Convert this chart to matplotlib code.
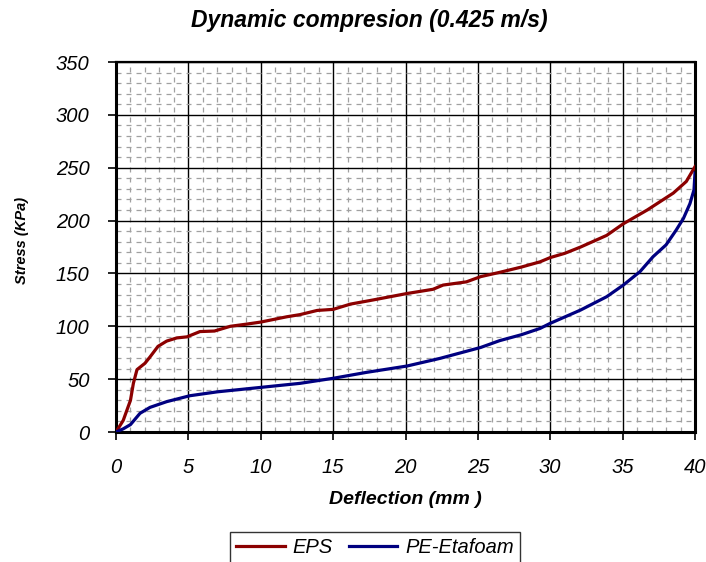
import numpy as np
import matplotlib.pyplot as plt
from matplotlib.ticker import MultipleLocator

plt.rcParams['font.family'] = ['Liberation Sans', 'DejaVu Sans']

# Stress-deflection curves (deflection in mm, stress in kPa)
eps_x = [0, 0.5, 1.0, 1.2, 1.45, 2.0, 2.35, 2.9, 3.5, 4.2, 4.9, 5.8, 6.8, 7.9, 9.0,
         10.0, 11.8, 12.7, 13.9, 15.0, 16.2, 17.8, 20.1, 21.9, 22.6, 24.2, 25.2,
         26.5, 28.0, 29.3, 30.0, 31.0, 32.1, 33.9, 35.05, 36.7, 38.5, 39.4, 40.0]
eps_y = [0, 11, 30, 46, 59, 65, 71, 81, 86, 89, 90, 95, 95.5, 100, 102,
         104, 109, 111, 115, 116, 121, 125, 131, 135, 139, 142, 147,
         151, 156, 161, 165, 169, 175, 186, 197, 210, 226, 237, 251]

pe_x = [0, 0.5, 1.0, 1.66, 2.35, 3.5, 5.1, 7.0, 10.0, 12.7, 15.0, 17.3, 20.1,
        22.4, 25.2, 26.5, 28.0, 29.3, 30.0, 32.1, 33.9, 35.05, 36.2, 37.1, 38.0,
        38.7, 39.2, 39.65, 39.93, 40.0]
pe_y = [0, 3, 7, 17.7, 23.3, 28.7, 34.3, 38, 42.2, 46, 50.8, 56.4, 62.4,
        69.7, 80, 86.4, 92, 98, 102.8, 115.4, 128, 139, 151.7, 165.8, 177,
        191, 202, 216, 229, 245]

fig = plt.figure(figsize=(7.06, 5.62), dpi=100)
ax = fig.add_axes([116 / 706, 1 - 432 / 562, 579 / 706, 370 / 562])

ax.plot(eps_x, eps_y, color='#8b0000', lw=2.3, label='EPS', zorder=3)
ax.plot(pe_x, pe_y, color='#000080', lw=2.3, label='PE-Etafoam', zorder=3)

ax.set_xlim(0, 40)
ax.set_ylim(0, 350)
ax.xaxis.set_major_locator(MultipleLocator(5))
ax.yaxis.set_major_locator(MultipleLocator(50))
ax.xaxis.set_minor_locator(MultipleLocator(1))
ax.yaxis.set_minor_locator(MultipleLocator(10))

ax.grid(which='major', color='black', lw=1.0)
ax.grid(which='minor', color='#a0a0a0', lw=0.9, linestyle=(0, (4, 4)))
ax.set_axisbelow(True)

for side in ['left', 'bottom', 'right']:
    ax.spines[side].set_linewidth(2.2)
ax.spines['top'].set_linewidth(1.6)

ax.tick_params(which='major', direction='out', length=6, width=1.2,
               labelsize=14.5, pad=13)
ax.tick_params(which='minor', length=0)
for lbl in ax.get_xticklabels() + ax.get_yticklabels():
    lbl.set_style('italic')

# title sits a little left of the plot centre
fig.text(369 / 706, 1 - 20 / 562, 'Dynamic compresion (0.425 m/s)', fontsize=16.5,
         fontweight='bold', style='italic', ha='center', va='center')
ax.set_xlabel('Deflection (mm )', fontsize=14, fontweight='bold', style='italic',
              labelpad=10)
ax.set_ylabel('Stress (KPa)', fontsize=10.5, fontweight='bold', style='italic')
ax.yaxis.set_label_coords(-0.151, 0.519)

leg = fig.legend(loc='upper center', bbox_to_anchor=(375 / 706, 1 - 532 / 562),
                 ncol=2, frameon=True, fancybox=False, edgecolor='black',
                 prop={'style': 'italic', 'size': 14.5}, handlelength=2.4,
                 columnspacing=0.8, handletextpad=0.4, borderpad=0.3,
                 borderaxespad=0)
leg.get_frame().set_linewidth(1.0)

fig.savefig('out.png', dpi=100)
